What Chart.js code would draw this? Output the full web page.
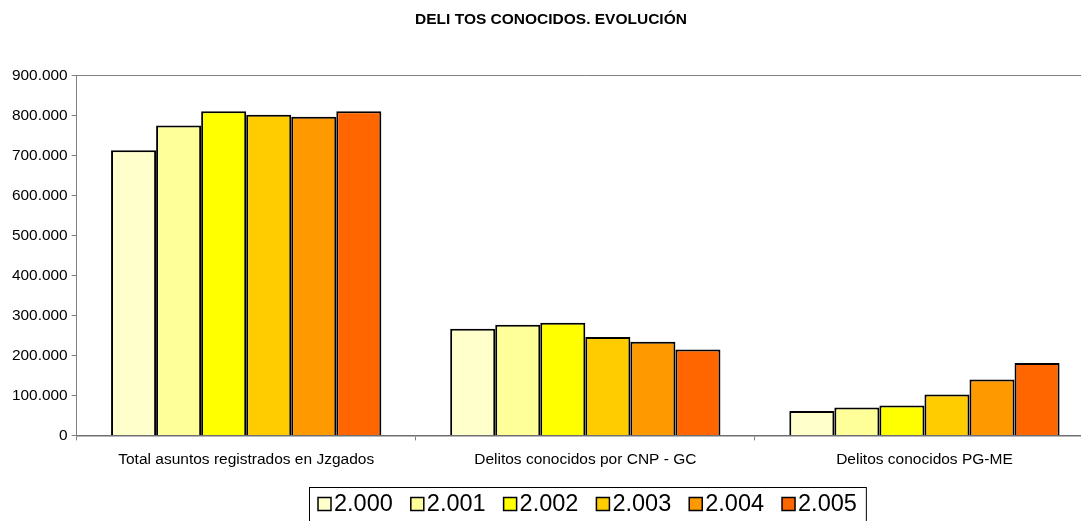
<!DOCTYPE html>
<html>
<head>
<meta charset="utf-8">
<script src="https://cdn.jsdelivr.net/npm/chart.js@4.4.1/dist/chart.umd.min.js"></script>
<style>
  html, body { margin: 0; padding: 0; background: #fff; overflow: hidden; }
  /* the original chart is a little wider than the picture and cut on the right */
  #wrap { width: 1081px; height: 521px; overflow: hidden; }
</style>
</head>
<body>
<div id="wrap"><canvas id="myChart" width="1112" height="521"></canvas></div>
<script>
// Data
const categories = [
  'Total asuntos registrados en Jzgados',
  'Delitos conocidos por CNP - GC',
  'Delitos conocidos PG-ME'
];
const years = ['2.000', '2.001', '2.002', '2.003', '2.004', '2.005'];
const v2000 = [713000, 267000, 61000];
const v2001 = [775000, 277000, 70000];
const v2002 = [811000, 282000, 75000];
const v2003 = [802000, 246000, 102000];
const v2004 = [797000, 234000, 140000];
const v2005 = [811000, 215000, 181000];
const colors = ['#FFFFCC', '#FFFF99', '#FFFF00', '#FFCC00', '#FF9900', '#FF6600'];
const yTicks = [0, 100000, 200000, 300000, 400000, 500000, 600000, 700000, 800000, 900000];

const series = [v2000, v2001, v2002, v2003, v2004, v2005];
const FONT = 'Arial, "Liberation Sans", sans-serif';

// Helpers
function fmt(n) {
  return String(n).replace(/\B(?=(\d{3})+(?!\d))/g, '.');
}

// Excel-style legend: small boxes, text tight to the box, framed
const boxLegend = {
  id: 'boxLegend',
  afterDraw(chart) {
    const ctx = chart.ctx;
    const area = chart.chartArea;
    const fontSize = 23.5;
    const box = 13, gap = 3, spacing = 18;
    ctx.save();
    ctx.font = fontSize + 'px ' + FONT;
    const widths = years.map(t => ctx.measureText(t).width);
    const total = widths.reduce((s, w) => s + box + gap + w, 0) + spacing * (years.length - 1);
    let x = Math.round((area.left + area.right) / 2 + 2 - total / 2);
    const cy = 504;

    // frame
    ctx.strokeStyle = '#000';
    ctx.lineWidth = 1;
    ctx.strokeRect(x - 8.5, 487.5, total + 18, 60);

    years.forEach((t, i) => {
      ctx.fillStyle = colors[i];
      ctx.fillRect(x, cy - box / 2, box, box);
      ctx.strokeStyle = '#000';
      ctx.lineWidth = 1.5;
      ctx.strokeRect(x, cy - box / 2, box, box);
      ctx.fillStyle = '#000';
      ctx.textBaseline = 'middle';
      ctx.textAlign = 'left';
      ctx.fillText(t, x + box + gap, cy + 1);
      x += box + gap + widths[i] + spacing;
    });
    ctx.restore();
  }
};

const ctx = document.getElementById('myChart').getContext('2d');
new Chart(ctx, {
  type: 'bar',
  data: {
    labels: categories,
    datasets: series.map((d, i) => ({
      label: years[i],
      data: d,
      backgroundColor: colors[i],
      borderColor: '#000',
      borderWidth: 2,
      borderSkipped: 'bottom',
      categoryPercentage: 0.797,
      barPercentage: 1.0
    }))
  },
  options: {
    responsive: false,
    animation: false,
    layout: { padding: { left: 8, right: 18, top: 0, bottom: 42 } },
    scales: {
      x: {
        grid: {
          display: true,
          drawOnChartArea: false,
          drawTicks: true,
          tickLength: 5,
          color: '#808080',
          offset: true
        },
        border: { color: '#707070', width: 1.5 },
        ticks: { color: '#000', font: { family: FONT, size: 15.5 }, padding: 10 }
      },
      y: {
        min: 0,
        max: 900000,
        afterBuildTicks: (axis) => { axis.ticks = yTicks.map(v => ({ value: v })); },
        grid: {
          drawTicks: true,
          tickLength: 5,
          color: (c) => c.tick && c.tick.value === 900000 ? '#808080' : 'rgba(0,0,0,0)',
          tickColor: '#808080'
        },
        border: { color: '#808080', width: 1 },
        ticks: {
          color: '#000',
          font: { family: FONT, size: 15.4 },
          padding: 4,
          callback: (v) => fmt(v)
        }
      }
    },
    plugins: {
      title: {
        display: true,
        text: 'DELI TOS CONOCIDOS. EVOLUCIÓN',
        color: '#000',
        font: { family: FONT, size: 15.5, weight: 'bold' },
        padding: { top: 10, bottom: 47 }
      },
      legend: { display: false },
      tooltip: { enabled: false }
    }
  },
  plugins: [boxLegend]
});
</script>
</body>
</html>
